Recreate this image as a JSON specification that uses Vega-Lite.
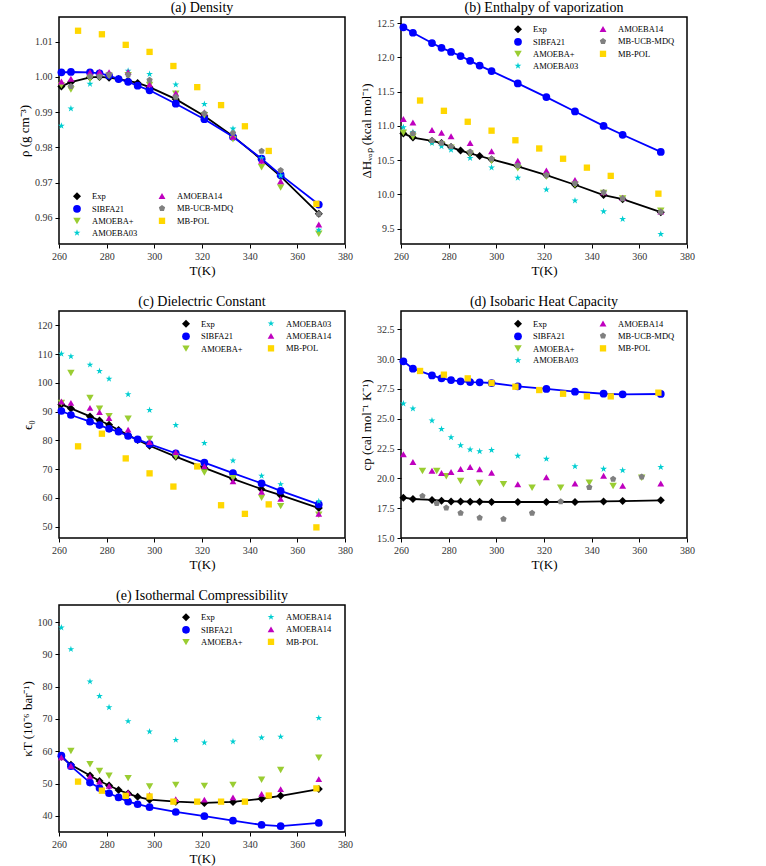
{
  "$schema": "https://vega.github.io/schema/vega-lite/v6.json",
  "padding": {"left": 17, "top": 0, "right": 5, "bottom": 5},
  "background": "white",
  "datasets": {
    "density": [
      {"T": 261, "s": "Exp", "v": 0.9973}, {"T": 265, "s": "Exp", "v": 0.9985}, {"T": 273, "s": "Exp", "v": 0.9999}, {"T": 277, "s": "Exp", "v": 1.0000}, {"T": 281, "s": "Exp", "v": 0.9998}, {"T": 285, "s": "Exp", "v": 0.9994}, {"T": 289, "s": "Exp", "v": 0.9989}, {"T": 293, "s": "Exp", "v": 0.9983}, {"T": 298, "s": "Exp", "v": 0.9971}, {"T": 309, "s": "Exp", "v": 0.9937}, {"T": 321, "s": "Exp", "v": 0.9889}, {"T": 333, "s": "Exp", "v": 0.9832}, {"T": 345, "s": "Exp", "v": 0.9765}, {"T": 353, "s": "Exp", "v": 0.9718}, {"T": 369, "s": "Exp", "v": 0.9612},
      {"T": 261, "s": "SIBFA21", "v": 1.0013}, {"T": 265, "s": "SIBFA21", "v": 1.0014}, {"T": 273, "s": "SIBFA21", "v": 1.0013}, {"T": 277, "s": "SIBFA21", "v": 1.0010}, {"T": 281, "s": "SIBFA21", "v": 1.0004}, {"T": 285, "s": "SIBFA21", "v": 0.9994}, {"T": 289, "s": "SIBFA21", "v": 0.9986}, {"T": 293, "s": "SIBFA21", "v": 0.9975}, {"T": 298, "s": "SIBFA21", "v": 0.9962}, {"T": 309, "s": "SIBFA21", "v": 0.9924}, {"T": 321, "s": "SIBFA21", "v": 0.9880}, {"T": 333, "s": "SIBFA21", "v": 0.9830}, {"T": 345, "s": "SIBFA21", "v": 0.9768}, {"T": 353, "s": "SIBFA21", "v": 0.9722}, {"T": 369, "s": "SIBFA21", "v": 0.9638},
      {"T": 261, "s": "AMOEBA+", "v": 0.9976}, {"T": 265, "s": "AMOEBA+", "v": 0.9964}, {"T": 273, "s": "AMOEBA+", "v": 0.9994}, {"T": 277, "s": "AMOEBA+", "v": 0.9998}, {"T": 281, "s": "AMOEBA+", "v": 1.0003}, {"T": 289, "s": "AMOEBA+", "v": 1.0005}, {"T": 298, "s": "AMOEBA+", "v": 0.9977}, {"T": 309, "s": "AMOEBA+", "v": 0.9952}, {"T": 321, "s": "AMOEBA+", "v": 0.9891}, {"T": 333, "s": "AMOEBA+", "v": 0.9823}, {"T": 345, "s": "AMOEBA+", "v": 0.9744}, {"T": 353, "s": "AMOEBA+", "v": 0.9686}, {"T": 369, "s": "AMOEBA+", "v": 0.9555},
      {"T": 261, "s": "AMOEBA03", "v": 0.9861}, {"T": 265, "s": "AMOEBA03", "v": 0.9910}, {"T": 273, "s": "AMOEBA03", "v": 0.9980}, {"T": 277, "s": "AMOEBA03", "v": 1.0003}, {"T": 289, "s": "AMOEBA03", "v": 1.0017}, {"T": 298, "s": "AMOEBA03", "v": 1.0008}, {"T": 309, "s": "AMOEBA03", "v": 0.9978}, {"T": 321, "s": "AMOEBA03", "v": 0.9923}, {"T": 333, "s": "AMOEBA03", "v": 0.9853}, {"T": 345, "s": "AMOEBA03", "v": 0.9769}, {"T": 353, "s": "AMOEBA03", "v": 0.9720}, {"T": 369, "s": "AMOEBA03", "v": 0.9566},
      {"T": 261, "s": "AMOEBA14", "v": 0.9987}, {"T": 265, "s": "AMOEBA14", "v": 0.9995}, {"T": 273, "s": "AMOEBA14", "v": 1.0013}, {"T": 277, "s": "AMOEBA14", "v": 1.0015}, {"T": 281, "s": "AMOEBA14", "v": 1.0013}, {"T": 289, "s": "AMOEBA14", "v": 1.0014}, {"T": 298, "s": "AMOEBA14", "v": 0.9979}, {"T": 309, "s": "AMOEBA14", "v": 0.9954}, {"T": 321, "s": "AMOEBA14", "v": 0.9900}, {"T": 333, "s": "AMOEBA14", "v": 0.9830}, {"T": 345, "s": "AMOEBA14", "v": 0.9762}, {"T": 353, "s": "AMOEBA14", "v": 0.9704}, {"T": 369, "s": "AMOEBA14", "v": 0.9581},
      {"T": 265, "s": "MB-UCB-MDQ", "v": 0.9973}, {"T": 273, "s": "MB-UCB-MDQ", "v": 1.0002}, {"T": 277, "s": "MB-UCB-MDQ", "v": 1.0001}, {"T": 281, "s": "MB-UCB-MDQ", "v": 1.0006}, {"T": 289, "s": "MB-UCB-MDQ", "v": 1.0006}, {"T": 298, "s": "MB-UCB-MDQ", "v": 0.9991}, {"T": 309, "s": "MB-UCB-MDQ", "v": 0.9943}, {"T": 321, "s": "MB-UCB-MDQ", "v": 0.9897}, {"T": 333, "s": "MB-UCB-MDQ", "v": 0.9841}, {"T": 345, "s": "MB-UCB-MDQ", "v": 0.9790}, {"T": 353, "s": "MB-UCB-MDQ", "v": 0.9735}, {"T": 369, "s": "MB-UCB-MDQ", "v": 0.9611},
      {"T": 268, "s": "MB-POL", "v": 1.0131}, {"T": 278, "s": "MB-POL", "v": 1.0121}, {"T": 288, "s": "MB-POL", "v": 1.0091}, {"T": 298, "s": "MB-POL", "v": 1.0071}, {"T": 308, "s": "MB-POL", "v": 1.0031}, {"T": 318, "s": "MB-POL", "v": 0.9971}, {"T": 328, "s": "MB-POL", "v": 0.9920}, {"T": 338, "s": "MB-POL", "v": 0.9860}, {"T": 348, "s": "MB-POL", "v": 0.9790}, {"T": 368, "s": "MB-POL", "v": 0.9640}
    ],
    "hvap": [
      {"T": 261, "s": "Exp", "v": 10.89}, {"T": 265, "s": "Exp", "v": 10.83}, {"T": 273, "s": "Exp", "v": 10.78}, {"T": 277, "s": "Exp", "v": 10.75}, {"T": 281, "s": "Exp", "v": 10.69}, {"T": 285, "s": "Exp", "v": 10.64}, {"T": 289, "s": "Exp", "v": 10.60}, {"T": 293, "s": "Exp", "v": 10.56}, {"T": 298, "s": "Exp", "v": 10.51}, {"T": 309, "s": "Exp", "v": 10.41}, {"T": 321, "s": "Exp", "v": 10.28}, {"T": 333, "s": "Exp", "v": 10.14}, {"T": 345, "s": "Exp", "v": 9.99}, {"T": 353, "s": "Exp", "v": 9.93}, {"T": 369, "s": "Exp", "v": 9.74},
      {"T": 261, "s": "SIBFA21", "v": 12.44}, {"T": 265, "s": "SIBFA21", "v": 12.36}, {"T": 273, "s": "SIBFA21", "v": 12.21}, {"T": 277, "s": "SIBFA21", "v": 12.14}, {"T": 281, "s": "SIBFA21", "v": 12.08}, {"T": 285, "s": "SIBFA21", "v": 12.02}, {"T": 289, "s": "SIBFA21", "v": 11.95}, {"T": 293, "s": "SIBFA21", "v": 11.88}, {"T": 298, "s": "SIBFA21", "v": 11.80}, {"T": 309, "s": "SIBFA21", "v": 11.62}, {"T": 321, "s": "SIBFA21", "v": 11.42}, {"T": 333, "s": "SIBFA21", "v": 11.21}, {"T": 345, "s": "SIBFA21", "v": 11.00}, {"T": 353, "s": "SIBFA21", "v": 10.87}, {"T": 369, "s": "SIBFA21", "v": 10.62},
      {"T": 261, "s": "AMOEBA+", "v": 10.90}, {"T": 265, "s": "AMOEBA+", "v": 10.84}, {"T": 273, "s": "AMOEBA+", "v": 10.76}, {"T": 277, "s": "AMOEBA+", "v": 10.73}, {"T": 281, "s": "AMOEBA+", "v": 10.68}, {"T": 289, "s": "AMOEBA+", "v": 10.59}, {"T": 298, "s": "AMOEBA+", "v": 10.49}, {"T": 309, "s": "AMOEBA+", "v": 10.38}, {"T": 321, "s": "AMOEBA+", "v": 10.26}, {"T": 333, "s": "AMOEBA+", "v": 10.14}, {"T": 345, "s": "AMOEBA+", "v": 10.02}, {"T": 353, "s": "AMOEBA+", "v": 9.94}, {"T": 369, "s": "AMOEBA+", "v": 9.76},
      {"T": 261, "s": "AMOEBA03", "v": 10.98}, {"T": 265, "s": "AMOEBA03", "v": 10.91}, {"T": 273, "s": "AMOEBA03", "v": 10.75}, {"T": 277, "s": "AMOEBA03", "v": 10.70}, {"T": 281, "s": "AMOEBA03", "v": 10.65}, {"T": 289, "s": "AMOEBA03", "v": 10.53}, {"T": 298, "s": "AMOEBA03", "v": 10.39}, {"T": 309, "s": "AMOEBA03", "v": 10.24}, {"T": 321, "s": "AMOEBA03", "v": 10.07}, {"T": 333, "s": "AMOEBA03", "v": 9.91}, {"T": 345, "s": "AMOEBA03", "v": 9.75}, {"T": 353, "s": "AMOEBA03", "v": 9.64}, {"T": 369, "s": "AMOEBA03", "v": 9.42},
      {"T": 261, "s": "AMOEBA14", "v": 11.10}, {"T": 265, "s": "AMOEBA14", "v": 11.05}, {"T": 273, "s": "AMOEBA14", "v": 10.94}, {"T": 277, "s": "AMOEBA14", "v": 10.90}, {"T": 281, "s": "AMOEBA14", "v": 10.85}, {"T": 289, "s": "AMOEBA14", "v": 10.75}, {"T": 298, "s": "AMOEBA14", "v": 10.63}, {"T": 309, "s": "AMOEBA14", "v": 10.49}, {"T": 321, "s": "AMOEBA14", "v": 10.35}, {"T": 333, "s": "AMOEBA14", "v": 10.21}, {"T": 345, "s": "AMOEBA14", "v": 10.03}, {"T": 353, "s": "AMOEBA14", "v": 9.95}, {"T": 369, "s": "AMOEBA14", "v": 9.75},
      {"T": 265, "s": "MB-UCB-MDQ", "v": 10.89}, {"T": 273, "s": "MB-UCB-MDQ", "v": 10.79}, {"T": 277, "s": "MB-UCB-MDQ", "v": 10.75}, {"T": 281, "s": "MB-UCB-MDQ", "v": 10.70}, {"T": 289, "s": "MB-UCB-MDQ", "v": 10.62}, {"T": 298, "s": "MB-UCB-MDQ", "v": 10.52}, {"T": 309, "s": "MB-UCB-MDQ", "v": 10.42}, {"T": 321, "s": "MB-UCB-MDQ", "v": 10.28}, {"T": 333, "s": "MB-UCB-MDQ", "v": 10.16}, {"T": 345, "s": "MB-UCB-MDQ", "v": 10.03}, {"T": 353, "s": "MB-UCB-MDQ", "v": 9.94}, {"T": 369, "s": "MB-UCB-MDQ", "v": 9.74},
      {"T": 268, "s": "MB-POL", "v": 11.37}, {"T": 278, "s": "MB-POL", "v": 11.22}, {"T": 288, "s": "MB-POL", "v": 11.06}, {"T": 298, "s": "MB-POL", "v": 10.93}, {"T": 308, "s": "MB-POL", "v": 10.79}, {"T": 318, "s": "MB-POL", "v": 10.67}, {"T": 328, "s": "MB-POL", "v": 10.52}, {"T": 338, "s": "MB-POL", "v": 10.39}, {"T": 348, "s": "MB-POL", "v": 10.27}, {"T": 368, "s": "MB-POL", "v": 10.01}
    ],
    "dielectric": [
      {"T": 261, "s": "Exp", "v": 92.5}, {"T": 265, "s": "Exp", "v": 91.1}, {"T": 273, "s": "Exp", "v": 88.3}, {"T": 277, "s": "Exp", "v": 86.9}, {"T": 281, "s": "Exp", "v": 85.4}, {"T": 285, "s": "Exp", "v": 83.6}, {"T": 289, "s": "Exp", "v": 81.8}, {"T": 293, "s": "Exp", "v": 80.1}, {"T": 298, "s": "Exp", "v": 78.1}, {"T": 309, "s": "Exp", "v": 74.3}, {"T": 321, "s": "Exp", "v": 70.4}, {"T": 333, "s": "Exp", "v": 66.6}, {"T": 345, "s": "Exp", "v": 63.0}, {"T": 353, "s": "Exp", "v": 60.9}, {"T": 369, "s": "Exp", "v": 56.4},
      {"T": 261, "s": "SIBFA21", "v": 90.2}, {"T": 265, "s": "SIBFA21", "v": 88.8}, {"T": 273, "s": "SIBFA21", "v": 86.5}, {"T": 277, "s": "SIBFA21", "v": 85.3}, {"T": 281, "s": "SIBFA21", "v": 84.0}, {"T": 285, "s": "SIBFA21", "v": 83.0}, {"T": 289, "s": "SIBFA21", "v": 81.5}, {"T": 293, "s": "SIBFA21", "v": 80.3}, {"T": 298, "s": "SIBFA21", "v": 78.7}, {"T": 309, "s": "SIBFA21", "v": 75.5}, {"T": 321, "s": "SIBFA21", "v": 72.2}, {"T": 333, "s": "SIBFA21", "v": 68.6}, {"T": 345, "s": "SIBFA21", "v": 65.0}, {"T": 353, "s": "SIBFA21", "v": 62.4}, {"T": 369, "s": "SIBFA21", "v": 57.7},
      {"T": 261, "s": "AMOEBA+", "v": 93.0}, {"T": 265, "s": "AMOEBA+", "v": 103.4}, {"T": 273, "s": "AMOEBA+", "v": 94.7}, {"T": 277, "s": "AMOEBA+", "v": 91.0}, {"T": 281, "s": "AMOEBA+", "v": 88.4}, {"T": 289, "s": "AMOEBA+", "v": 87.5}, {"T": 298, "s": "AMOEBA+", "v": 80.5}, {"T": 309, "s": "AMOEBA+", "v": 74.3}, {"T": 321, "s": "AMOEBA+", "v": 68.8}, {"T": 333, "s": "AMOEBA+", "v": 66.8}, {"T": 345, "s": "AMOEBA+", "v": 60.0}, {"T": 353, "s": "AMOEBA+", "v": 57.1}, {"T": 369, "s": "AMOEBA+", "v": 54.1},
      {"T": 261, "s": "AMOEBA03", "v": 110.1}, {"T": 265, "s": "AMOEBA03", "v": 109.2}, {"T": 273, "s": "AMOEBA03", "v": 106.3}, {"T": 277, "s": "AMOEBA03", "v": 104.1}, {"T": 281, "s": "AMOEBA03", "v": 101.4}, {"T": 289, "s": "AMOEBA03", "v": 96.0}, {"T": 298, "s": "AMOEBA03", "v": 90.5}, {"T": 309, "s": "AMOEBA03", "v": 85.3}, {"T": 321, "s": "AMOEBA03", "v": 79.0}, {"T": 333, "s": "AMOEBA03", "v": 72.9}, {"T": 345, "s": "AMOEBA03", "v": 67.6}, {"T": 353, "s": "AMOEBA03", "v": 64.7}, {"T": 369, "s": "AMOEBA03", "v": 58.8},
      {"T": 261, "s": "AMOEBA14", "v": 93.5}, {"T": 265, "s": "AMOEBA14", "v": 93.0}, {"T": 273, "s": "AMOEBA14", "v": 91.3}, {"T": 277, "s": "AMOEBA14", "v": 89.8}, {"T": 281, "s": "AMOEBA14", "v": 87.7}, {"T": 289, "s": "AMOEBA14", "v": 83.7}, {"T": 298, "s": "AMOEBA14", "v": 79.4}, {"T": 309, "s": "AMOEBA14", "v": 75.9}, {"T": 321, "s": "AMOEBA14", "v": 71.0}, {"T": 333, "s": "AMOEBA14", "v": 65.7}, {"T": 345, "s": "AMOEBA14", "v": 62.1}, {"T": 353, "s": "AMOEBA14", "v": 59.6}, {"T": 369, "s": "AMOEBA14", "v": 54.4},
      {"T": 268, "s": "MB-POL", "v": 77.9}, {"T": 278, "s": "MB-POL", "v": 82.3}, {"T": 288, "s": "MB-POL", "v": 73.7}, {"T": 298, "s": "MB-POL", "v": 68.5}, {"T": 308, "s": "MB-POL", "v": 63.9}, {"T": 318, "s": "MB-POL", "v": 70.9}, {"T": 328, "s": "MB-POL", "v": 57.4}, {"T": 338, "s": "MB-POL", "v": 54.4}, {"T": 348, "s": "MB-POL", "v": 57.7}, {"T": 368, "s": "MB-POL", "v": 49.7}
    ],
    "cp": [
      {"T": 261, "s": "Exp", "v": 18.38}, {"T": 265, "s": "Exp", "v": 18.27}, {"T": 273, "s": "Exp", "v": 18.19}, {"T": 277, "s": "Exp", "v": 18.13}, {"T": 281, "s": "Exp", "v": 18.07}, {"T": 285, "s": "Exp", "v": 18.06}, {"T": 289, "s": "Exp", "v": 18.05}, {"T": 293, "s": "Exp", "v": 18.04}, {"T": 298, "s": "Exp", "v": 18.02}, {"T": 309, "s": "Exp", "v": 18.02}, {"T": 321, "s": "Exp", "v": 18.02}, {"T": 333, "s": "Exp", "v": 18.03}, {"T": 345, "s": "Exp", "v": 18.07}, {"T": 353, "s": "Exp", "v": 18.10}, {"T": 369, "s": "Exp", "v": 18.16},
      {"T": 261, "s": "SIBFA21", "v": 29.82}, {"T": 265, "s": "SIBFA21", "v": 29.20}, {"T": 273, "s": "SIBFA21", "v": 28.64}, {"T": 277, "s": "SIBFA21", "v": 28.39}, {"T": 281, "s": "SIBFA21", "v": 28.25}, {"T": 285, "s": "SIBFA21", "v": 28.14}, {"T": 289, "s": "SIBFA21", "v": 28.08}, {"T": 293, "s": "SIBFA21", "v": 28.06}, {"T": 298, "s": "SIBFA21", "v": 28.00}, {"T": 309, "s": "SIBFA21", "v": 27.72}, {"T": 321, "s": "SIBFA21", "v": 27.50}, {"T": 333, "s": "SIBFA21", "v": 27.27}, {"T": 345, "s": "SIBFA21", "v": 27.10}, {"T": 353, "s": "SIBFA21", "v": 27.05}, {"T": 369, "s": "SIBFA21", "v": 27.08},
      {"T": 269, "s": "AMOEBA+", "v": 20.62}, {"T": 275, "s": "AMOEBA+", "v": 20.62}, {"T": 279, "s": "AMOEBA+", "v": 20.17}, {"T": 285, "s": "AMOEBA+", "v": 19.78}, {"T": 293, "s": "AMOEBA+", "v": 19.61}, {"T": 303, "s": "AMOEBA+", "v": 19.50}, {"T": 315, "s": "AMOEBA+", "v": 19.22}, {"T": 327, "s": "AMOEBA+", "v": 19.22}, {"T": 339, "s": "AMOEBA+", "v": 19.64}, {"T": 349, "s": "AMOEBA+", "v": 19.36}, {"T": 361, "s": "AMOEBA+", "v": 20.06},
      {"T": 261, "s": "AMOEBA03", "v": 26.27}, {"T": 265, "s": "AMOEBA03", "v": 25.85}, {"T": 273, "s": "AMOEBA03", "v": 24.84}, {"T": 277, "s": "AMOEBA03", "v": 24.14}, {"T": 281, "s": "AMOEBA03", "v": 23.44}, {"T": 285, "s": "AMOEBA03", "v": 22.77}, {"T": 289, "s": "AMOEBA03", "v": 22.41}, {"T": 293, "s": "AMOEBA03", "v": 22.27}, {"T": 298, "s": "AMOEBA03", "v": 22.38}, {"T": 309, "s": "AMOEBA03", "v": 21.88}, {"T": 321, "s": "AMOEBA03", "v": 21.63}, {"T": 333, "s": "AMOEBA03", "v": 21.01}, {"T": 345, "s": "AMOEBA03", "v": 20.79}, {"T": 353, "s": "AMOEBA03", "v": 20.67}, {"T": 369, "s": "AMOEBA03", "v": 20.95},
      {"T": 261, "s": "AMOEBA14", "v": 22.02}, {"T": 265, "s": "AMOEBA14", "v": 21.37}, {"T": 273, "s": "AMOEBA14", "v": 20.65}, {"T": 277, "s": "AMOEBA14", "v": 20.45}, {"T": 281, "s": "AMOEBA14", "v": 20.53}, {"T": 285, "s": "AMOEBA14", "v": 20.79}, {"T": 289, "s": "AMOEBA14", "v": 20.95}, {"T": 293, "s": "AMOEBA14", "v": 20.76}, {"T": 298, "s": "AMOEBA14", "v": 20.48}, {"T": 309, "s": "AMOEBA14", "v": 19.50}, {"T": 321, "s": "AMOEBA14", "v": 20.09}, {"T": 333, "s": "AMOEBA14", "v": 19.58}, {"T": 345, "s": "AMOEBA14", "v": 20.23}, {"T": 353, "s": "AMOEBA14", "v": 19.39}, {"T": 369, "s": "AMOEBA14", "v": 19.58},
      {"T": 269, "s": "MB-UCB-MDQ", "v": 18.52}, {"T": 275, "s": "MB-UCB-MDQ", "v": 17.91}, {"T": 279, "s": "MB-UCB-MDQ", "v": 17.54}, {"T": 285, "s": "MB-UCB-MDQ", "v": 17.10}, {"T": 293, "s": "MB-UCB-MDQ", "v": 16.70}, {"T": 303, "s": "MB-UCB-MDQ", "v": 16.59}, {"T": 315, "s": "MB-UCB-MDQ", "v": 17.10}, {"T": 327, "s": "MB-UCB-MDQ", "v": 18.05}, {"T": 339, "s": "MB-UCB-MDQ", "v": 19.25}, {"T": 349, "s": "MB-UCB-MDQ", "v": 19.95}, {"T": 361, "s": "MB-UCB-MDQ", "v": 20.14},
      {"T": 268, "s": "MB-POL", "v": 29.01}, {"T": 278, "s": "MB-POL", "v": 28.70}, {"T": 288, "s": "MB-POL", "v": 28.39}, {"T": 298, "s": "MB-POL", "v": 28.00}, {"T": 308, "s": "MB-POL", "v": 27.69}, {"T": 318, "s": "MB-POL", "v": 27.41}, {"T": 328, "s": "MB-POL", "v": 27.10}, {"T": 338, "s": "MB-POL", "v": 26.88}, {"T": 348, "s": "MB-POL", "v": 26.88}, {"T": 368, "s": "MB-POL", "v": 27.19}
    ],
    "kappa": [
      {"T": 261, "s": "Exp", "v": 58.3}, {"T": 265, "s": "Exp", "v": 55.8}, {"T": 273, "s": "Exp", "v": 52.5}, {"T": 277, "s": "Exp", "v": 50.8}, {"T": 281, "s": "Exp", "v": 49.4}, {"T": 285, "s": "Exp", "v": 48.0}, {"T": 289, "s": "Exp", "v": 46.9}, {"T": 293, "s": "Exp", "v": 45.9}, {"T": 298, "s": "Exp", "v": 45.0}, {"T": 309, "s": "Exp", "v": 44.4}, {"T": 321, "s": "Exp", "v": 44.0}, {"T": 333, "s": "Exp", "v": 44.3}, {"T": 345, "s": "Exp", "v": 45.3}, {"T": 353, "s": "Exp", "v": 46.2}, {"T": 369, "s": "Exp", "v": 48.3},
      {"T": 261, "s": "SIBFA21", "v": 58.7}, {"T": 265, "s": "SIBFA21", "v": 55.4}, {"T": 273, "s": "SIBFA21", "v": 50.3}, {"T": 277, "s": "SIBFA21", "v": 48.6}, {"T": 281, "s": "SIBFA21", "v": 47.0}, {"T": 285, "s": "SIBFA21", "v": 45.7}, {"T": 289, "s": "SIBFA21", "v": 44.4}, {"T": 293, "s": "SIBFA21", "v": 43.6}, {"T": 298, "s": "SIBFA21", "v": 42.7}, {"T": 309, "s": "SIBFA21", "v": 41.2}, {"T": 321, "s": "SIBFA21", "v": 39.9}, {"T": 333, "s": "SIBFA21", "v": 38.5}, {"T": 345, "s": "SIBFA21", "v": 37.2}, {"T": 353, "s": "SIBFA21", "v": 36.8}, {"T": 369, "s": "SIBFA21", "v": 37.8},
      {"T": 265, "s": "AMOEBA+", "v": 60.1}, {"T": 273, "s": "AMOEBA+", "v": 56.0}, {"T": 277, "s": "AMOEBA+", "v": 53.9}, {"T": 281, "s": "AMOEBA+", "v": 52.4}, {"T": 289, "s": "AMOEBA+", "v": 51.7}, {"T": 298, "s": "AMOEBA+", "v": 49.1}, {"T": 309, "s": "AMOEBA+", "v": 49.6}, {"T": 321, "s": "AMOEBA+", "v": 49.3}, {"T": 333, "s": "AMOEBA+", "v": 49.6}, {"T": 345, "s": "AMOEBA+", "v": 51.2}, {"T": 353, "s": "AMOEBA+", "v": 54.2}, {"T": 369, "s": "AMOEBA+", "v": 58.0},
      {"T": 261, "s": "AMOEBA03", "v": 98.3}, {"T": 265, "s": "AMOEBA03", "v": 91.6}, {"T": 273, "s": "AMOEBA03", "v": 81.6}, {"T": 277, "s": "AMOEBA03", "v": 77.1}, {"T": 281, "s": "AMOEBA03", "v": 73.6}, {"T": 289, "s": "AMOEBA03", "v": 69.3}, {"T": 298, "s": "AMOEBA03", "v": 66.1}, {"T": 309, "s": "AMOEBA03", "v": 63.5}, {"T": 321, "s": "AMOEBA03", "v": 62.7}, {"T": 333, "s": "AMOEBA03", "v": 63.0}, {"T": 345, "s": "AMOEBA03", "v": 64.2}, {"T": 353, "s": "AMOEBA03", "v": 64.5}, {"T": 369, "s": "AMOEBA03", "v": 70.3},
      {"T": 261, "s": "AMOEBA14", "v": 58.1}, {"T": 265, "s": "AMOEBA14", "v": 55.5}, {"T": 273, "s": "AMOEBA14", "v": 52.2}, {"T": 277, "s": "AMOEBA14", "v": 50.6}, {"T": 281, "s": "AMOEBA14", "v": 49.3}, {"T": 289, "s": "AMOEBA14", "v": 47.2}, {"T": 298, "s": "AMOEBA14", "v": 46.5}, {"T": 309, "s": "AMOEBA14", "v": 45.2}, {"T": 321, "s": "AMOEBA14", "v": 45.0}, {"T": 333, "s": "AMOEBA14", "v": 45.7}, {"T": 345, "s": "AMOEBA14", "v": 46.8}, {"T": 353, "s": "AMOEBA14", "v": 48.3}, {"T": 369, "s": "AMOEBA14", "v": 51.4},
      {"T": 268, "s": "MB-POL", "v": 50.6}, {"T": 278, "s": "MB-POL", "v": 47.8}, {"T": 288, "s": "MB-POL", "v": 46.2}, {"T": 298, "s": "MB-POL", "v": 46.0}, {"T": 308, "s": "MB-POL", "v": 44.4}, {"T": 318, "s": "MB-POL", "v": 44.4}, {"T": 328, "s": "MB-POL", "v": 44.4}, {"T": 338, "s": "MB-POL", "v": 44.4}, {"T": 348, "s": "MB-POL", "v": 46.3}, {"T": 368, "s": "MB-POL", "v": 48.5}
    ]
  },
  "columns": 2,
  "spacing": {"row": 67, "column": 56},
  "bounds": "flush",
  "resolve": {
    "scale": {"color": "independent", "shape": "independent", "size": "independent", "stroke": "independent"},
    "legend": {"color": "independent", "shape": "independent"}
  },
  "concat": [
    {
      "title": "(a) Density",
      "width": 286,
      "height": 227,
      "data": {"name": "density"},
      "encoding": {
        "x": {"field": "T", "type": "quantitative", "scale": {"domain": [260, 380], "nice": false}, "axis": {"values": [260, 280, 300, 320, 340, 360, 380], "title": "T(K)"}},
        "y": {"field": "v", "type": "quantitative", "scale": {"domain": [0.9526, 1.017], "nice": false, "zero": false}, "axis": {"values": [0.96, 0.97, 0.98, 0.99, 1.0, 1.01], "format": ".2f", "title": "ρ (g cm⁻³)"}}
      },
      "layer": [
        {
          "transform": [{"filter": "datum.s == 'Exp' || datum.s == 'SIBFA21'"}],
          "mark": {"type": "line", "strokeWidth": 1.8},
          "encoding": {"stroke": {"field": "s", "type": "nominal", "scale": {"domain": ["Exp", "SIBFA21"], "range": ["#000000", "#0000ff"]}, "legend": null}}
        },
        {
          "mark": {"type": "point", "filled": true, "opacity": 1},
          "encoding": {
            "color": {"field": "s", "type": "nominal", "scale": {"domain": ["Exp", "SIBFA21", "AMOEBA+", "AMOEBA03", "AMOEBA14", "MB-UCB-MDQ", "MB-POL"], "range": ["#000000", "#0000ff", "#9acd32", "#00ced1", "#bf00bf", "#808080", "#ffd700"]}, "legend": {"title": null, "legendX": 13, "legendY": 174, "columnPadding": 19}},
            "shape": {"field": "s", "type": "nominal", "scale": {"domain": ["Exp", "SIBFA21", "AMOEBA+", "AMOEBA03", "AMOEBA14", "MB-UCB-MDQ", "MB-POL"], "range": ["diamond", "circle", "triangle-down", "M0,-1L0.2245,-0.309L0.951,-0.309L0.363,0.118L0.588,0.809L0,0.382L-0.588,0.809L-0.363,0.118L-0.951,-0.309L-0.2245,-0.309Z", "triangle-up", "M0,-1L0.951,-0.309L0.588,0.809L-0.588,0.809L-0.951,-0.309Z", "square"]}, "legend": {"title": null, "legendX": 13, "legendY": 174, "columnPadding": 19}},
            "size": {"field": "s", "type": "nominal", "scale": {"domain": ["Exp", "SIBFA21", "AMOEBA+", "AMOEBA03", "AMOEBA14", "MB-UCB-MDQ", "MB-POL"], "range": [64, 40, 50, 40, 50, 48, 45]}, "legend": null}
          }
        }
      ]
    },
    {
      "title": "(b) Enthalpy of vaporization",
      "width": 286,
      "height": 227,
      "data": {"name": "hvap"},
      "encoding": {
        "x": {"field": "T", "type": "quantitative", "scale": {"domain": [260, 380], "nice": false}, "axis": {"values": [260, 280, 300, 320, 340, 360, 380], "title": "T(K)"}},
        "y": {"field": "v", "type": "quantitative", "scale": {"domain": [9.275, 12.59], "nice": false, "zero": false}, "axis": {"values": [9.5, 10.0, 10.5, 11.0, 11.5, 12.0, 12.5], "format": ".1f", "title": "ΔHᵥₐₚ (kcal mol⁻¹)"}}
      },
      "layer": [
        {
          "transform": [{"filter": "datum.s == 'Exp' || datum.s == 'SIBFA21'"}],
          "mark": {"type": "line", "strokeWidth": 1.8},
          "encoding": {"stroke": {"field": "s", "type": "nominal", "scale": {"domain": ["Exp", "SIBFA21"], "range": ["#000000", "#0000ff"]}, "legend": null}}
        },
        {
          "mark": {"type": "point", "filled": true, "opacity": 1},
          "encoding": {
            "color": {"field": "s", "type": "nominal", "scale": {"domain": ["Exp", "SIBFA21", "AMOEBA+", "AMOEBA03", "AMOEBA14", "MB-UCB-MDQ", "MB-POL"], "range": ["#000000", "#0000ff", "#9acd32", "#00ced1", "#bf00bf", "#808080", "#ffd700"]}, "legend": {"title": null, "legendX": 112, "legendY": 7, "columnPadding": 19}},
            "shape": {"field": "s", "type": "nominal", "scale": {"domain": ["Exp", "SIBFA21", "AMOEBA+", "AMOEBA03", "AMOEBA14", "MB-UCB-MDQ", "MB-POL"], "range": ["diamond", "circle", "triangle-down", "M0,-1L0.2245,-0.309L0.951,-0.309L0.363,0.118L0.588,0.809L0,0.382L-0.588,0.809L-0.363,0.118L-0.951,-0.309L-0.2245,-0.309Z", "triangle-up", "M0,-1L0.951,-0.309L0.588,0.809L-0.588,0.809L-0.951,-0.309Z", "square"]}, "legend": {"title": null, "legendX": 112, "legendY": 7, "columnPadding": 19}},
            "size": {"field": "s", "type": "nominal", "scale": {"domain": ["Exp", "SIBFA21", "AMOEBA+", "AMOEBA03", "AMOEBA14", "MB-UCB-MDQ", "MB-POL"], "range": [64, 40, 50, 40, 50, 48, 45]}, "legend": null}
          }
        }
      ]
    },
    {
      "title": "(c) Dielectric Constant",
      "width": 286,
      "height": 227,
      "data": {"name": "dielectric"},
      "encoding": {
        "x": {"field": "T", "type": "quantitative", "scale": {"domain": [260, 380], "nice": false}, "axis": {"values": [260, 280, 300, 320, 340, 360, 380], "title": "T(K)"}},
        "y": {"field": "v", "type": "quantitative", "scale": {"domain": [46, 125], "nice": false, "zero": false}, "axis": {"values": [50, 60, 70, 80, 90, 100, 110, 120], "title": "ϵ₀"}}
      },
      "layer": [
        {
          "transform": [{"filter": "datum.s == 'Exp' || datum.s == 'SIBFA21'"}],
          "mark": {"type": "line", "strokeWidth": 1.8},
          "encoding": {"stroke": {"field": "s", "type": "nominal", "scale": {"domain": ["Exp", "SIBFA21"], "range": ["#000000", "#0000ff"]}, "legend": null}}
        },
        {
          "mark": {"type": "point", "filled": true, "opacity": 1},
          "encoding": {
            "color": {"field": "s", "type": "nominal", "scale": {"domain": ["Exp", "SIBFA21", "AMOEBA+", "AMOEBA03", "AMOEBA14", "MB-POL"], "range": ["#000000", "#0000ff", "#9acd32", "#00ced1", "#bf00bf", "#ffd700"]}, "legend": {"title": null, "legendX": 122, "legendY": 7.5, "columnPadding": 23}},
            "shape": {"field": "s", "type": "nominal", "scale": {"domain": ["Exp", "SIBFA21", "AMOEBA+", "AMOEBA03", "AMOEBA14", "MB-POL"], "range": ["diamond", "circle", "triangle-down", "M0,-1L0.2245,-0.309L0.951,-0.309L0.363,0.118L0.588,0.809L0,0.382L-0.588,0.809L-0.363,0.118L-0.951,-0.309L-0.2245,-0.309Z", "triangle-up", "square"]}, "legend": {"title": null, "legendX": 122, "legendY": 7.5, "columnPadding": 23}},
            "size": {"field": "s", "type": "nominal", "scale": {"domain": ["Exp", "SIBFA21", "AMOEBA+", "AMOEBA03", "AMOEBA14", "MB-POL"], "range": [64, 40, 50, 40, 50, 45]}, "legend": null}
          }
        }
      ]
    },
    {
      "title": "(d) Isobaric Heat Capacity",
      "width": 286,
      "height": 227,
      "data": {"name": "cp"},
      "encoding": {
        "x": {"field": "T", "type": "quantitative", "scale": {"domain": [260, 380], "nice": false}, "axis": {"values": [260, 280, 300, 320, 340, 360, 380], "title": "T(K)"}},
        "y": {"field": "v", "type": "quantitative", "scale": {"domain": [15, 34.04], "nice": false, "zero": false}, "axis": {"values": [15, 17.5, 20, 22.5, 25, 27.5, 30, 32.5], "format": ".1f", "title": "cp (cal mol⁻¹ K⁻¹)"}}
      },
      "layer": [
        {
          "transform": [{"filter": "datum.s == 'Exp' || datum.s == 'SIBFA21'"}],
          "mark": {"type": "line", "strokeWidth": 1.8},
          "encoding": {"stroke": {"field": "s", "type": "nominal", "scale": {"domain": ["Exp", "SIBFA21"], "range": ["#000000", "#0000ff"]}, "legend": null}}
        },
        {
          "mark": {"type": "point", "filled": true, "opacity": 1},
          "encoding": {
            "color": {"field": "s", "type": "nominal", "scale": {"domain": ["Exp", "SIBFA21", "AMOEBA+", "AMOEBA03", "AMOEBA14", "MB-UCB-MDQ", "MB-POL"], "range": ["#000000", "#0000ff", "#9acd32", "#00ced1", "#bf00bf", "#808080", "#ffd700"]}, "legend": {"title": null, "legendX": 112, "legendY": 7.5, "columnPadding": 19}},
            "shape": {"field": "s", "type": "nominal", "scale": {"domain": ["Exp", "SIBFA21", "AMOEBA+", "AMOEBA03", "AMOEBA14", "MB-UCB-MDQ", "MB-POL"], "range": ["diamond", "circle", "triangle-down", "M0,-1L0.2245,-0.309L0.951,-0.309L0.363,0.118L0.588,0.809L0,0.382L-0.588,0.809L-0.363,0.118L-0.951,-0.309L-0.2245,-0.309Z", "triangle-up", "M0,-1L0.951,-0.309L0.588,0.809L-0.588,0.809L-0.951,-0.309Z", "square"]}, "legend": {"title": null, "legendX": 112, "legendY": 7.5, "columnPadding": 19}},
            "size": {"field": "s", "type": "nominal", "scale": {"domain": ["Exp", "SIBFA21", "AMOEBA+", "AMOEBA03", "AMOEBA14", "MB-UCB-MDQ", "MB-POL"], "range": [64, 40, 50, 40, 50, 48, 45]}, "legend": null}
          }
        }
      ]
    },
    {
      "title": "(e) Isothermal Compressibility",
      "width": 286,
      "height": 227,
      "data": {"name": "kappa"},
      "encoding": {
        "x": {"field": "T", "type": "quantitative", "scale": {"domain": [260, 380], "nice": false}, "axis": {"values": [260, 280, 300, 320, 340, 360, 380], "title": "T(K)"}},
        "y": {"field": "v", "type": "quantitative", "scale": {"domain": [35, 105.3], "nice": false, "zero": false}, "axis": {"values": [40, 50, 60, 70, 80, 90, 100], "title": "κT (10⁻⁶ bar⁻¹)"}}
      },
      "layer": [
        {
          "transform": [{"filter": "datum.s == 'Exp' || datum.s == 'SIBFA21'"}],
          "mark": {"type": "line", "strokeWidth": 1.8},
          "encoding": {"stroke": {"field": "s", "type": "nominal", "scale": {"domain": ["Exp", "SIBFA21"], "range": ["#000000", "#0000ff"]}, "legend": null}}
        },
        {
          "mark": {"type": "point", "filled": true, "opacity": 1},
          "encoding": {
            "color": {"field": "s", "type": "nominal", "scale": {"domain": ["Exp", "SIBFA21", "AMOEBA+", "AMOEBA03", "AMOEBA14", "MB-POL"], "range": ["#000000", "#0000ff", "#9acd32", "#00ced1", "#bf00bf", "#ffd700"]}, "legend": {"title": null, "legendX": 122, "legendY": 7, "columnPadding": 23, "labelExpr": "datum.label == 'AMOEBA03' ? 'AMOEBA14' : datum.label"}},
            "shape": {"field": "s", "type": "nominal", "scale": {"domain": ["Exp", "SIBFA21", "AMOEBA+", "AMOEBA03", "AMOEBA14", "MB-POL"], "range": ["diamond", "circle", "triangle-down", "M0,-1L0.2245,-0.309L0.951,-0.309L0.363,0.118L0.588,0.809L0,0.382L-0.588,0.809L-0.363,0.118L-0.951,-0.309L-0.2245,-0.309Z", "triangle-up", "square"]}, "legend": {"title": null, "legendX": 122, "legendY": 7, "columnPadding": 23, "labelExpr": "datum.label == 'AMOEBA03' ? 'AMOEBA14' : datum.label"}},
            "size": {"field": "s", "type": "nominal", "scale": {"domain": ["Exp", "SIBFA21", "AMOEBA+", "AMOEBA03", "AMOEBA14", "MB-POL"], "range": [64, 40, 50, 40, 50, 45]}, "legend": null}
          }
        }
      ]
    }
  ],
  "config": {
    "font": "Liberation Serif",
    "view": {"stroke": "#000000", "strokeWidth": 1.5},
    "axis": {
      "grid": false,
      "domain": false,
      "ticks": true,
      "tickColor": "#000000",
      "tickSize": 4,
      "labelFont": "Liberation Serif",
      "labelFontSize": 10,
      "labelColor": "#333333",
      "labelPadding": 3,
      "labelFlush": false,
      "labelOverlap": false,
      "titleFont": "Liberation Serif",
      "titleFontSize": 13,
      "titleFontWeight": "normal",
      "titleColor": "#000000",
      "titlePadding": 3
    },
    "title": {"font": "Liberation Serif", "fontSize": 14, "fontWeight": "normal", "color": "#000000", "offset": 2, "anchor": "middle"},
    "legend": {
      "orient": "none",
      "columns": 2,
      "labelFont": "Liberation Serif",
      "labelFontSize": 8.5,
      "labelColor": "#000000",
      "labelOffset": 10,
      "symbolSize": 45,
      "rowPadding": 2.8,
      "padding": 0
    }
  }
}
